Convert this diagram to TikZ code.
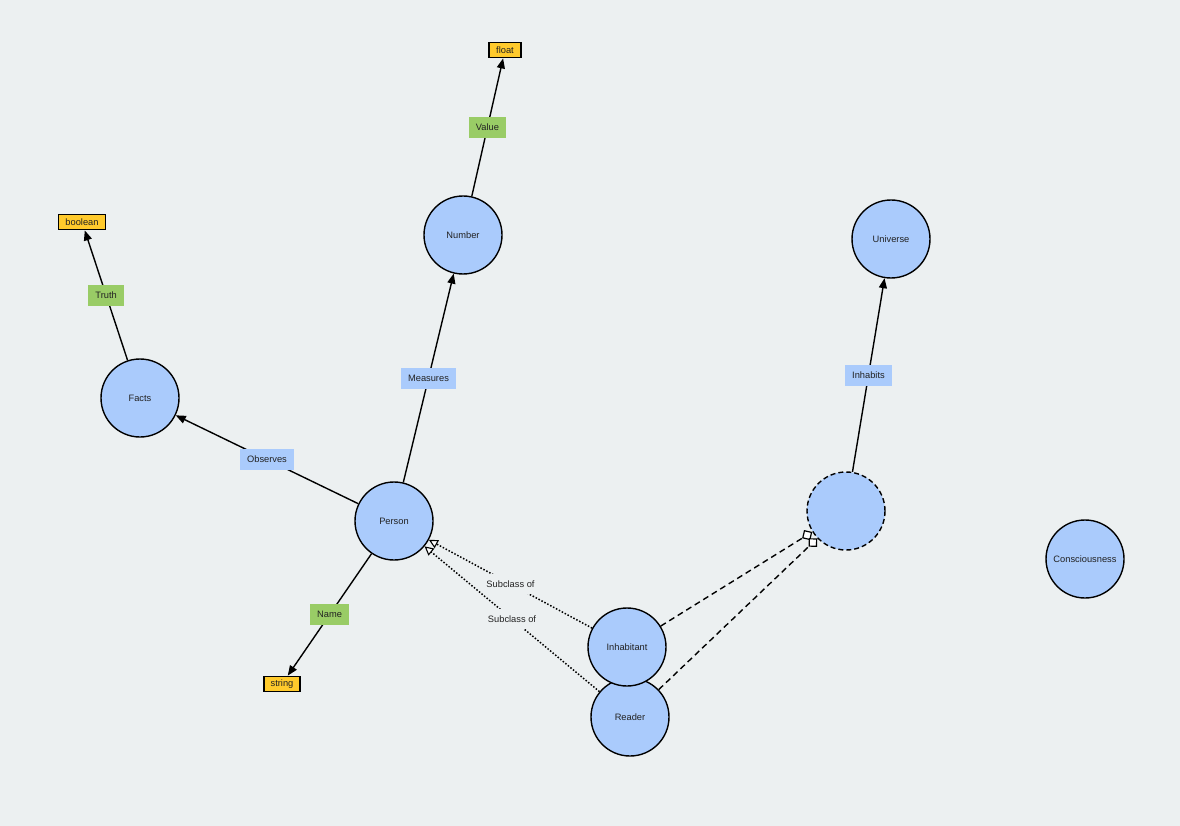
\documentclass[tikz,border=0pt]{standalone}
\usepackage{fontspec}
\setmainfont{Liberation Sans}
\usetikzlibrary{arrows.meta}
\definecolor{bgcol}{HTML}{ECF0F1}
\definecolor{classfill}{HTML}{AACBFC}
\definecolor{litfill}{HTML}{FFCA2C}
\definecolor{propgreen}{HTML}{99CC66}
\definecolor{txt}{HTML}{222222}
\pgfdeclarelayer{canvas}
\pgfdeclarelayer{edges}
\pgfsetlayers{canvas,edges,main}
\tikzset{
  every node/.style={font=\fontsize{9.3}{11}\selectfont, text=txt},
  cls/.style={circle, draw=black, line width=1.4pt, fill=classfill, minimum size=78pt, inner sep=0pt},
  anon/.style={cls, dash pattern=on 5pt off 3pt},
  lit/.style={draw=black, line width=1.8pt, fill=litfill, minimum height=15pt, inner xsep=7pt, inner ysep=0pt},
  objlbl/.style={fill=classfill, minimum height=21pt, inner xsep=7pt, inner ysep=0pt},
  datalbl/.style={fill=propgreen, minimum height=21pt, inner xsep=7pt, inner ysep=0pt},
  sublbl/.style={fill=bgcol, minimum height=20pt, inner xsep=3pt, inner ysep=0pt},
  prop/.style={line width=1.4pt, -{Triangle[length=10pt,width=8pt]}},
  subcls/.style={line width=1.5pt, dash pattern=on 1.5pt off 1.8pt, -{Triangle[fill=white,length=9pt,width=9pt,line width=1.1pt]}},
  member/.style={line width=1.4pt, dash pattern=on 6pt off 4pt, -{Diamond[fill=white,length=12pt,width=12pt,line width=1.2pt]}},
}
\begin{document}
\begin{tikzpicture}[x=1pt,y=-1pt]
  % canvas
  \begin{pgfonlayer}{canvas}
    \fill[bgcol] (0,0) rectangle (1180,826);
  \end{pgfonlayer}
  \useasboundingbox (0,0) rectangle (1180,826);

  % classes
  \node[cls] (number) at (463,235) {Number};
  \node[cls] (facts) at (140,398) {Facts};
  \node[cls] (person) at (394,521) {Person};
  \node[cls] (universe) at (891,239) {Universe};
  \node[anon] (thing) at (846,511) {};
  \node[cls] (consc) at (1085,559) {Consciousness};
  \node[cls] (reader) at (630,717) {Reader};
  \node[cls] (inhab) at (627,647) {Inhabitant};

  % datatypes
  \node[lit] (float) at (505,50) {float};
  \node[lit] (bool) at (82,222) {boolean};
  \node[lit] (string) at (282,684) {string};

  \begin{pgfonlayer}{edges}
    \draw[prop] (person) -- node[objlbl] {Measures} (number);
    \draw[prop] (person) -- node[objlbl] {Observes} (facts);
    \draw[prop] (number) -- node[datalbl] {Value} (float);
    \draw[prop] (facts) -- node[datalbl] {Truth} (bool);
    \draw[prop] (person) -- node[datalbl] {Name} (string);
    \draw[prop] (thing) -- node[objlbl] {Inhabits} (universe);
    \draw[subcls] (inhab) -- node[sublbl] {Subclass of} (person);
    \draw[subcls] (reader) -- node[sublbl] {Subclass of} (person);
    \draw[member] (inhab) -- (thing);
    \draw[member] (reader) -- (thing);
  \end{pgfonlayer}
\end{tikzpicture}
\end{document}
